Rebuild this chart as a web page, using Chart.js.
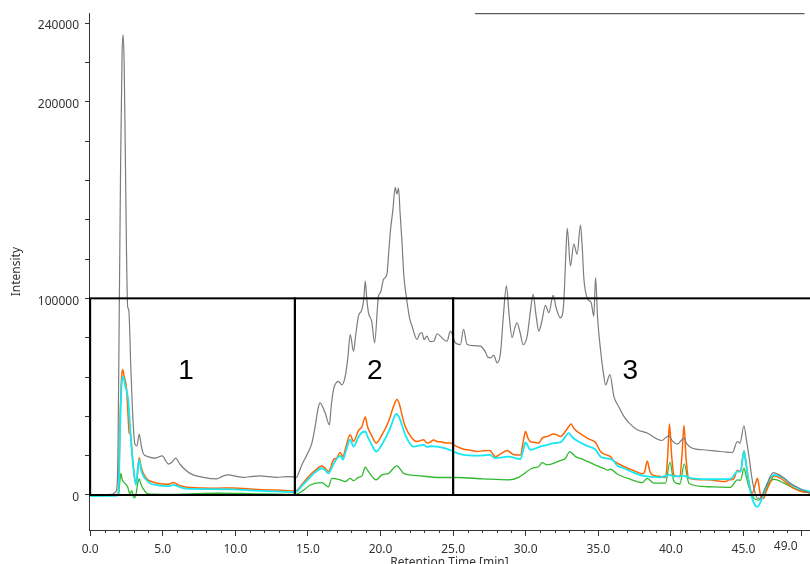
<!DOCTYPE html>
<html>
<head>
<meta charset="utf-8">
<script src="https://cdn.jsdelivr.net/npm/chart.js@4.4.1/dist/chart.umd.min.js"></script>
<style>
  html, body { margin: 0; padding: 0; background: #fff; }
</style>
</head>
<body>
<canvas id="chromChart" width="810" height="564"></canvas>
<script>
// TIC trace (grey)
const grayTime = [
    0, 1.5, 1.75, 1.85, 1.92, 2.0, 2.1, 2.2, 2.27, 2.34,
    2.42, 2.5, 2.58, 2.66, 2.8, 2.95, 3.08, 3.22, 3.38, 3.5,
    3.66, 4.0, 4.46, 4.97, 5.2, 5.38, 5.6, 5.89, 6.2, 6.88,
    7.8, 8.72, 9.1, 9.52, 10.0, 10.55, 11.2, 11.7, 12.3, 12.86,
    13.5, 14.1, 14.19, 14.4, 14.58, 14.9, 15.27, 15.5, 15.7, 15.84,
    16.0, 16.19, 16.48, 16.6, 16.76, 17.1, 17.34, 17.57, 17.75, 17.91,
    18.14, 18.3, 18.48, 18.72, 18.85, 18.95, 19.05, 19.17, 19.4, 19.59,
    19.86, 20.0, 20.21, 20.44, 20.55, 20.67, 20.85, 21.01, 21.13, 21.24,
    21.35, 21.48, 21.6, 21.77, 22.0, 22.17, 22.51, 22.7, 22.86, 23.0,
    23.2, 23.4, 23.66, 23.9, 24.12, 24.35, 24.58, 24.81, 25.15, 25.5,
    25.72, 25.96, 26.4, 26.88, 27.2, 27.4, 27.57, 27.8, 28.03, 28.26,
    28.45, 28.67, 28.85, 29.06, 29.25, 29.4, 29.6, 29.82, 30.1, 30.3,
    30.51, 30.7, 30.9, 31.1, 31.36, 31.59, 31.89, 32.1, 32.39, 32.62,
    32.75, 32.86, 33.08, 33.31, 33.54, 33.77, 33.9, 34.0, 34.28, 34.5,
    34.69, 34.81, 34.95, 35.15, 35.35, 35.5, 35.8, 36.07, 36.4, 36.76,
    37.2, 37.68, 38.37, 39.06, 39.35, 39.86, 40.1, 40.44, 40.9, 41.1,
    41.48, 42.2, 42.97, 43.6, 44.23, 44.58, 44.76, 45.03, 45.2, 45.38,
    45.55, 45.72, 45.96, 46.19, 46.4, 46.65, 46.85, 47.06, 47.4, 47.79,
    48.2, 48.72, 49.2, 49.6
];
const grayIntensity = [
    0, 300, 1500, 4000, 25000, 90000, 170000, 225000, 234000, 220000,
    175000, 125000, 96000, 94000, 65000, 38000, 26000, 25000, 31000, 26000,
    21000, 19500, 18700, 19900, 17500, 15700, 16500, 18700, 15500, 11000,
    9000, 8200, 9500, 10200, 9600, 9000, 9500, 9700, 9300, 9000,
    9300, 9200, 8800, 12000, 15300, 20000, 26400, 35000, 44000, 46800,
    45000, 41700, 35700, 45000, 53600, 57800, 56000, 60400, 70000, 81600,
    73100, 82000, 91000, 94400, 100000, 108800, 100000, 92700, 88000, 77400,
    101200, 103000, 109700, 112200, 122000, 133500, 145000, 156500, 153000, 156000,
    143000, 128400, 112000, 101200, 90000, 85900, 79100, 82000, 82500, 79000,
    80800, 78000, 78200, 82000, 80800, 79000, 78200, 83300, 77400, 76500,
    84200, 76500, 76000, 75700, 73000, 70000, 69700, 71000, 67200, 72000,
    90000, 106300, 92000, 80000, 85000, 87600, 83000, 76500, 80800, 92000,
    102000, 92000, 83300, 88000, 96400, 92700, 101500, 95000, 90100, 97800,
    120000, 135600, 116500, 127600, 122400, 137200, 125000, 110500, 99500, 98000,
    91000, 110500, 90000, 74000, 62000, 56000, 61200, 50200, 45000, 40000,
    36000, 33200, 31500, 28400, 27700, 30100, 27500, 25900, 28900, 26000,
    23800, 23000, 22400, 22000, 21600, 27200, 26400, 35200, 28000, 19500,
    10000, 3400, -1700, -1500, 2000, 6000, 9500, 11400, 10500, 8500,
    6000, 3900, 2000, 1000
];

// orange trace
const orangeTime = [
    0, 1.9, 1.97, 2.05, 2.15, 2.23, 2.35, 2.51, 2.6, 2.69,
    2.78, 2.9, 3.08, 3.2, 3.3, 3.38, 3.5, 3.66, 3.9, 4.12,
    4.6, 5.03, 5.4, 5.72, 6.1, 6.65, 7.5, 8.5, 9.86, 11,
    12.17, 13.2, 14.12, 14.3, 14.6, 15.15, 15.5, 15.96, 16.2, 16.41,
    16.76, 17.0, 17.22, 17.41, 17.6, 17.91, 18.14, 18.48, 18.72, 18.95,
    19.1, 19.4, 19.7, 20.1, 20.55, 20.9, 21.13, 21.31, 21.5, 21.7,
    22.17, 22.51, 22.97, 23.2, 23.43, 23.65, 23.89, 24.2, 24.58, 24.8,
    25.27, 25.72, 26.2, 26.65, 27.1, 27.52, 27.91, 28.3, 28.72, 29.1,
    29.41, 29.63, 29.85, 29.98, 30.15, 30.32, 30.6, 30.9, 31.13, 31.5,
    31.93, 32.15, 32.39, 32.8, 33.13, 33.3, 33.54, 33.9, 34.23, 34.5,
    34.81, 35.15, 35.5, 35.84, 36.07, 36.4, 36.76, 37.4, 38.03, 38.2,
    38.37, 38.55, 38.72, 39.2, 39.63, 39.78, 39.9, 40.05, 40.21, 40.62,
    40.76, 40.9, 41.05, 41.24, 42.51, 43.77, 44.0, 44.3, 44.58, 44.8,
    45.03, 45.2, 45.38, 45.6, 45.8, 45.96, 46.1, 46.19, 46.38, 46.55,
    46.76, 47.1, 47.57, 48.0, 48.48, 49.0, 49.6
];
const orangeIntensity = [
    0, 0, 5000, 35000, 58000, 63800, 60000, 53600, 42000, 31500,
    31000, 20000, 7700, 6000, 15000, 19000, 14500, 11000, 8300, 7100,
    6000, 5600, 5500, 6300, 5000, 3900, 3600, 3400, 3600, 3000,
    2600, 2400, 2000, 2800, 5500, 10200, 12500, 14800, 13500, 11900,
    17900, 19000, 21600, 19500, 24000, 30600, 27200, 32700, 34800, 39600,
    34800, 30000, 26400, 30600, 37400, 45100, 48500, 45900, 40000, 34800,
    28900, 27200, 28100, 26500, 26900, 28000, 27200, 27000, 26400, 26400,
    24600, 23300, 22800, 22100, 22500, 22600, 19500, 21000, 22600, 20800,
    20400, 20400, 28000, 32300, 29000, 27200, 26800, 26400, 28900, 29800,
    31000, 30500, 29800, 33000, 36100, 34000, 32300, 30500, 28900, 28000,
    26700, 22100, 20500, 19500, 17300, 15800, 14500, 12500, 10800, 12000,
    17300, 12000, 10200, 9500, 9000, 20000, 36100, 20000, 10200, 9300,
    20000, 35400, 18000, 8500, 7700, 6800, 7700, 8000, 12400, 12000,
    22500, 15000, 6000, 900, 5000, 8500, 3000, -900, -1700, 1500,
    5100, 9700, 8500, 6000, 3400, 1800, 1200
];

// cyan trace
const cyanTime = [
    0, 1.9, 1.97, 2.05, 2.15, 2.28, 2.4, 2.62, 2.72, 2.81,
    2.97, 3.15, 3.28, 3.38, 3.5, 3.66, 3.9, 4.12, 4.6, 5.03,
    5.4, 5.72, 6.1, 6.65, 8, 9.86, 11, 12.17, 14.12, 14.3,
    14.6, 15.15, 15.5, 15.96, 16.2, 16.41, 16.76, 17.22, 17.41, 17.6,
    17.91, 18.14, 18.48, 18.72, 18.95, 19.1, 19.4, 19.7, 20.21, 20.67,
    21.08, 21.31, 21.5, 21.7, 22.28, 22.97, 23.2, 23.43, 23.89, 24.58,
    25.27, 25.72, 26.65, 27.52, 27.91, 28.83, 29.63, 29.85, 29.98, 30.32,
    31.01, 31.5, 31.93, 32.39, 32.97, 33.2, 33.54, 34.23, 34.81, 35.15,
    35.96, 36.3, 36.76, 37.4, 38.14, 39.29, 39.9, 40.2, 40.9, 41.24,
    42.51, 44.1, 44.58, 44.8, 45.03, 45.15, 45.31, 45.5, 45.72, 45.96,
    46.23, 46.45, 46.65, 47.1, 47.79, 48.2, 48.72, 49.6
];
const cyanIntensity = [
    -500, -300, 4000, 30000, 54000, 60000, 56000, 48500, 38000, 28000,
    14500, 5100, 13000, 17900, 13000, 9700, 7500, 6000, 5000, 4600,
    4500, 5100, 4200, 3200, 3000, 2900, 2400, 2000, 1500, 2200,
    4800, 9000, 11500, 13600, 12500, 11000, 15800, 19900, 18000, 22000,
    28100, 24600, 29500, 31800, 32300, 29800, 25500, 22100, 27200, 34000,
    41200, 39100, 35000, 30600, 24600, 25500, 24500, 24800, 24600, 23500,
    21300, 20400, 20000, 20400, 18700, 19500, 18200, 23500, 26700, 23000,
    24600, 25500, 26400, 26700, 31500, 29500, 27600, 25000, 23000, 19500,
    17900, 15000, 13600, 11500, 9700, 9000, 10200, 9500, 9700, 8800,
    8000, 8200, 11900, 12000, 22400, 17000, 9300, 1000, -4200, -6000,
    -2600, 2000, 6000, 10200, 8500, 6000, 3400, 1700
];

// green trace
const greenTime = [
    0, 1.95, 2.03, 2.12, 2.2, 2.28, 2.58, 2.74, 2.86, 3.01,
    3.15, 3.28, 3.38, 3.5, 3.66, 4.0, 5, 8.72, 11, 14.12,
    14.4, 14.8, 15.15, 15.96, 16.41, 16.65, 17.22, 17.57, 17.91, 18.14,
    18.48, 18.72, 18.95, 19.17, 19.7, 20.1, 20.55, 21.13, 21.59, 22.51,
    24.12, 25.27, 27.1, 28.83, 29.52, 30.44, 30.9, 31.13, 31.47, 32.39,
    32.74, 33.03, 33.43, 34.0, 34.92, 35.5, 35.65, 35.84, 36.3, 37.22,
    38.03, 38.37, 38.83, 39.63, 39.93, 40.21, 40.62, 40.92, 41.24, 42.51,
    44.1, 44.58, 44.8, 45.03, 45.2, 45.38, 45.72, 46.07, 46.38, 46.76,
    47.1, 47.79, 48.72, 49.6
];
const greenIntensity = [
    0, 0, 6000, 11000, 8000, 6800, 4200, 500, 2200, -1400,
    0, 6000, 8200, 5500, 3100, 500, 300, 900, 700, 300,
    1000, 3000, 5100, 6300, 4200, 8500, 7700, 6800, 8500, 7300,
    9000, 9700, 14100, 11900, 7700, 10200, 11000, 14800, 11000, 9900,
    8900, 8900, 8200, 7700, 9000, 13600, 14500, 16500, 15300, 17500,
    18700, 22100, 19500, 17900, 14800, 13100, 12500, 13100, 10700, 8000,
    6300, 8500, 6000, 6000, 16700, 6800, 5600, 15800, 6000, 4200,
    3900, 7700, 7500, 13600, 9000, 3900, -1700, -2600, 0, 6000,
    8000, 6000, 2600, 900
];

// fraction windows
const regionNames = ["1", "2", "3"];
const regionStart = [0, 14.1, 25.0];
const regionEnd = [14.1, 25.0, 49.9];
const regionTop = 100000;
const regionLabelTime = [6.6, 19.6, 37.2];
const regionLabelIntensity = 63000;

// axis ticks
const xMajorTicks = [0, 5, 10, 15, 20, 25, 30, 35, 40, 45, 49];
const xMinorTicks = [
    1, 2, 3, 4, 6, 7, 8, 9, 11, 12, 13, 14, 16, 17, 18, 19, 21, 22, 23, 24,
    26, 27, 28, 29, 31, 32, 33, 34, 36, 37, 38, 39, 41, 42, 43, 44, 46, 47, 48
];
const yTicks = [0, 20000, 40000, 60000, 80000, 100000, 120000, 140000,
    160000, 180000, 200000, 220000, 240000];
const yLabelledTicks = [0, 100000, 200000, 240000];

const FONT = "'Noto Sans', 'DejaVu Sans', sans-serif";
const TICK_LEN = 6;
const TICK_PAD = 6;

function toPoints(times, values) {
    return times.map((t, i) => ({ x: t, y: values[i] }));
}

const windowsPlugin = {
    id: "fractionWindows",
    afterDatasetsDraw(chart) {
        const { ctx } = chart;
        const x = chart.scales.x;
        const y = chart.scales.y;
        const top = y.getPixelForValue(regionTop);
        const bottom = y.getPixelForValue(0);

        ctx.save();
        ctx.strokeStyle = "#000";
        ctx.lineWidth = 2;
        regionStart.forEach((start, i) => {
            const left = x.getPixelForValue(start);
            const right = x.getPixelForValue(regionEnd[i]);
            ctx.strokeRect(left, top, right - left, bottom - top);
        });

        ctx.fillStyle = "#000";
        ctx.font = "28px 'Liberation Sans', Arial, sans-serif";
        ctx.textAlign = "center";
        ctx.textBaseline = "middle";
        regionNames.forEach((name, i) => {
            ctx.fillText(name,
                x.getPixelForValue(regionLabelTime[i]),
                y.getPixelForValue(regionLabelIntensity));
        });
        ctx.restore();
    },
    afterDraw(chart) {
        const { ctx, chartArea } = chart;
        const x = chart.scales.x;

        ctx.save();
        // minor ticks on the time axis
        ctx.strokeStyle = "#333";
        ctx.lineWidth = 1;
        ctx.beginPath();
        xMinorTicks.forEach(t => {
            const px = Math.round(x.getPixelForValue(t)) + 0.5;
            ctx.moveTo(px, chartArea.bottom);
            ctx.lineTo(px, chartArea.bottom + 3);
        });
        ctx.stroke();

        // end-of-run label, pulled inside the canvas
        ctx.fillStyle = "#333";
        ctx.font = "12px " + FONT;
        ctx.textAlign = "right";
        ctx.textBaseline = "middle";
        ctx.fillText("49.0", x.getPixelForValue(49) - 4,
            chartArea.bottom + TICK_LEN + TICK_PAD + 7.2 - 3);

        // rule along the top edge
        ctx.strokeStyle = "#333";
        ctx.beginPath();
        ctx.moveTo(x.getPixelForValue(26.5), chartArea.top + 0.5);
        ctx.lineTo(x.getPixelForValue(49.2), chartArea.top + 0.5);
        ctx.stroke();
        ctx.restore();
    }
};

Chart.defaults.font.family = FONT;
Chart.defaults.font.size = 12;
Chart.defaults.color = "#333";

new Chart(document.getElementById("chromChart"), {
    type: "line",
    data: {
        datasets: [
            {
                label: "TIC",
                data: toPoints(grayTime, grayIntensity),
                borderColor: "#7c7c7c",
                borderWidth: 1.2,
                order: 0
            },
            {
                label: "cyan",
                data: toPoints(cyanTime, cyanIntensity),
                borderColor: "#18e8f2",
                borderWidth: 1.8,
                order: 1
            },
            {
                label: "orange",
                data: toPoints(orangeTime, orangeIntensity),
                borderColor: "#ff6400",
                borderWidth: 1.5,
                order: 2
            },
            {
                label: "green",
                data: toPoints(greenTime, greenIntensity),
                borderColor: "#30b830",
                borderWidth: 1.3,
                order: 3
            }
        ]
    },
    options: {
        responsive: false,
        animation: false,
        layout: {
            padding: { left: 0, right: 0, top: 13, bottom: 0 }
        },
        elements: {
            point: { radius: 0 },
            line: { cubicInterpolationMode: "monotone" }
        },
        plugins: {
            legend: { display: false },
            tooltip: { enabled: false }
        },
        scales: {
            x: {
                type: "linear",
                min: -0.08,
                max: 49.58,
                afterBuildTicks(axis) {
                    axis.ticks = xMajorTicks.map(v => ({ value: v }));
                },
                afterFit(axis) {
                    axis.height = 34;
                },
                ticks: {
                    autoSkip: false,
                    maxRotation: 0,
                    padding: TICK_PAD,
                    callback(value) {
                        return value === 49 ? "" : value.toFixed(1);
                    }
                },
                grid: {
                    drawOnChartArea: false,
                    tickLength: TICK_LEN,
                    color: "#333"
                },
                border: { color: "#333", width: 1 },
                title: {
                    display: true,
                    text: "Retention Time [min]",
                    font: { size: 12 },
                    padding: { top: 0, bottom: -6 }
                }
            },
            y: {
                min: -17800,
                max: 245000,
                afterBuildTicks(axis) {
                    axis.ticks = yTicks.map(v => ({ value: v }));
                },
                afterFit(axis) {
                    axis.width = 89;
                },
                ticks: {
                    padding: 6,
                    labelOffset: 3,
                    callback(value) {
                        return yLabelledTicks.includes(value) ? String(value) : "";
                    }
                },
                grid: {
                    drawOnChartArea: false,
                    tickLength: 4,
                    color: "#333"
                },
                border: { color: "#333", width: 1 },
                title: {
                    display: true,
                    text: "Intensity",
                    font: { size: 12 },
                    padding: { top: 9, bottom: 0 }
                }
            }
        }
    },
    plugins: [windowsPlugin]
});
</script>
</body>
</html>
